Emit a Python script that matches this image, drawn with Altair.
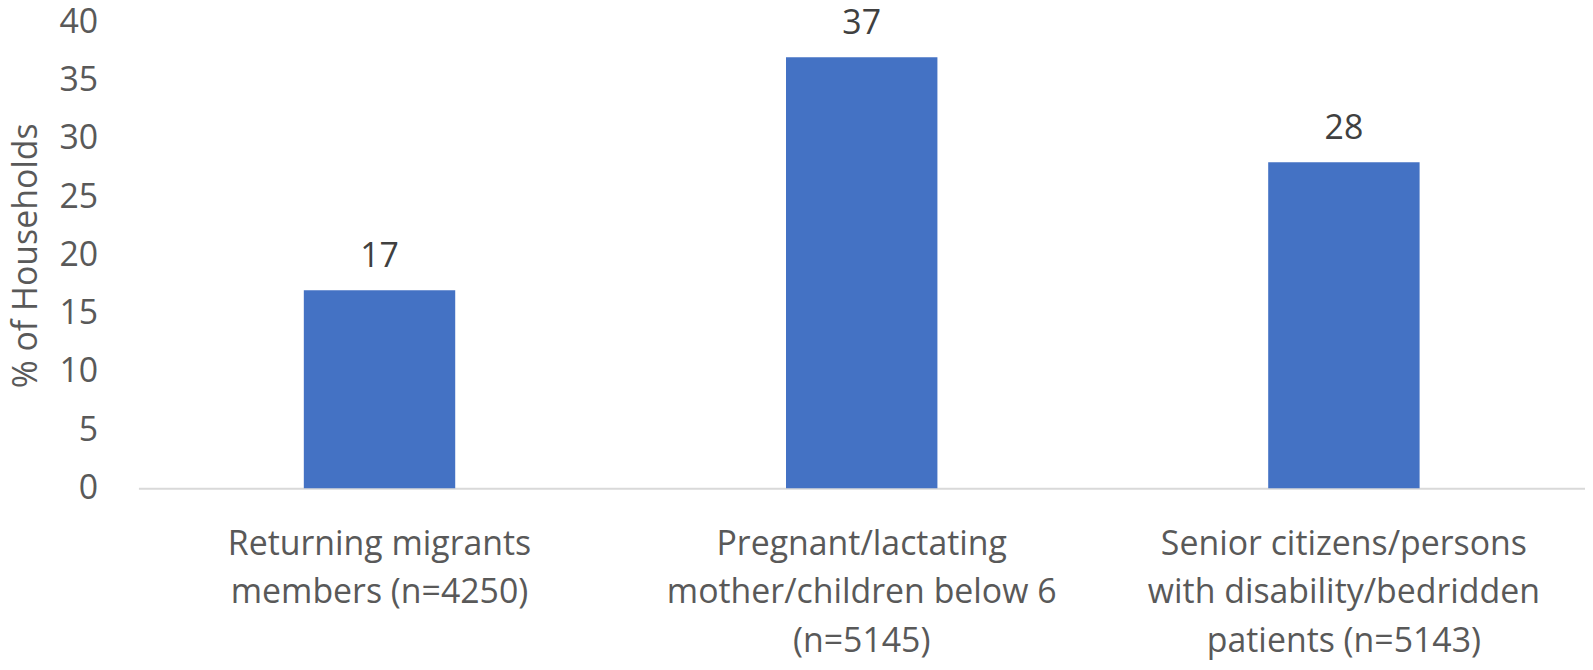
import altair as alt
import pandas as pd

categories = [
    "Returning migrants|members (n=4250)",
    "Pregnant/lactating|mother/children below 6|(n=5145)",
    "Senior citizens/persons|with disability/bedridden|patients (n=5143)",
]
values = [17, 37, 28]
y_ticks = [0, 5, 10, 15, 20, 25, 30, 35, 40]

df = pd.DataFrame({"cat": categories, "val": values})

FONT = "Open Sans"
FS = 34

x = alt.X(
    "cat:N",
    sort=categories,
    title=None,
    scale=alt.Scale(paddingInner=0.686, paddingOuter=0.343),
    axis=alt.Axis(
        labelAngle=0,
        labelExpr="split(datum.label, '|')",
        labelFont=FONT,
        labelFontSize=FS,
        labelColor="#595959",
        labelLineHeight=49,
        labelPadding=39,
        labelBaseline="top",
        labelLimit=600,
        tickSize=0,
        domainColor="#d9d9d9",
        domainWidth=2,
        grid=False,
    ),
)

y = alt.Y(
    "val:Q",
    title="% of Households",
    scale=alt.Scale(domain=[0, 40], nice=False),
    axis=alt.Axis(
        values=y_ticks,
        labelFont=FONT,
        labelFontSize=FS,
        labelColor="#595959",
        labelPadding=41,
        tickSize=0,
        domain=False,
        grid=False,
        titleFont=FONT,
        titleFontSize=FS,
        titleFontWeight="normal",
        titleColor="#595959",
        titlePadding=15,
    ),
)

bars = alt.Chart(df).mark_bar(color="#4472C4").encode(x=x, y=y)
labels = alt.Chart(df).mark_text(
    baseline="middle", dy=-33, font=FONT, fontSize=FS, color="#404040"
).encode(x=alt.X("cat:N", sort=categories), y="val:Q", text="val:Q")

chart = (
    alt.layer(bars, labels)
    .properties(
        width=1453,
        height=468,
        background="white",
        autosize=alt.AutoSizeParams(type="none"),
        padding={"left": 131, "top": 13, "right": 0, "bottom": 173},
    )
    .configure_view(strokeWidth=0, stroke=None)
)

chart.save("out.html", embed_options={"renderer": "svg", "actions": False})
